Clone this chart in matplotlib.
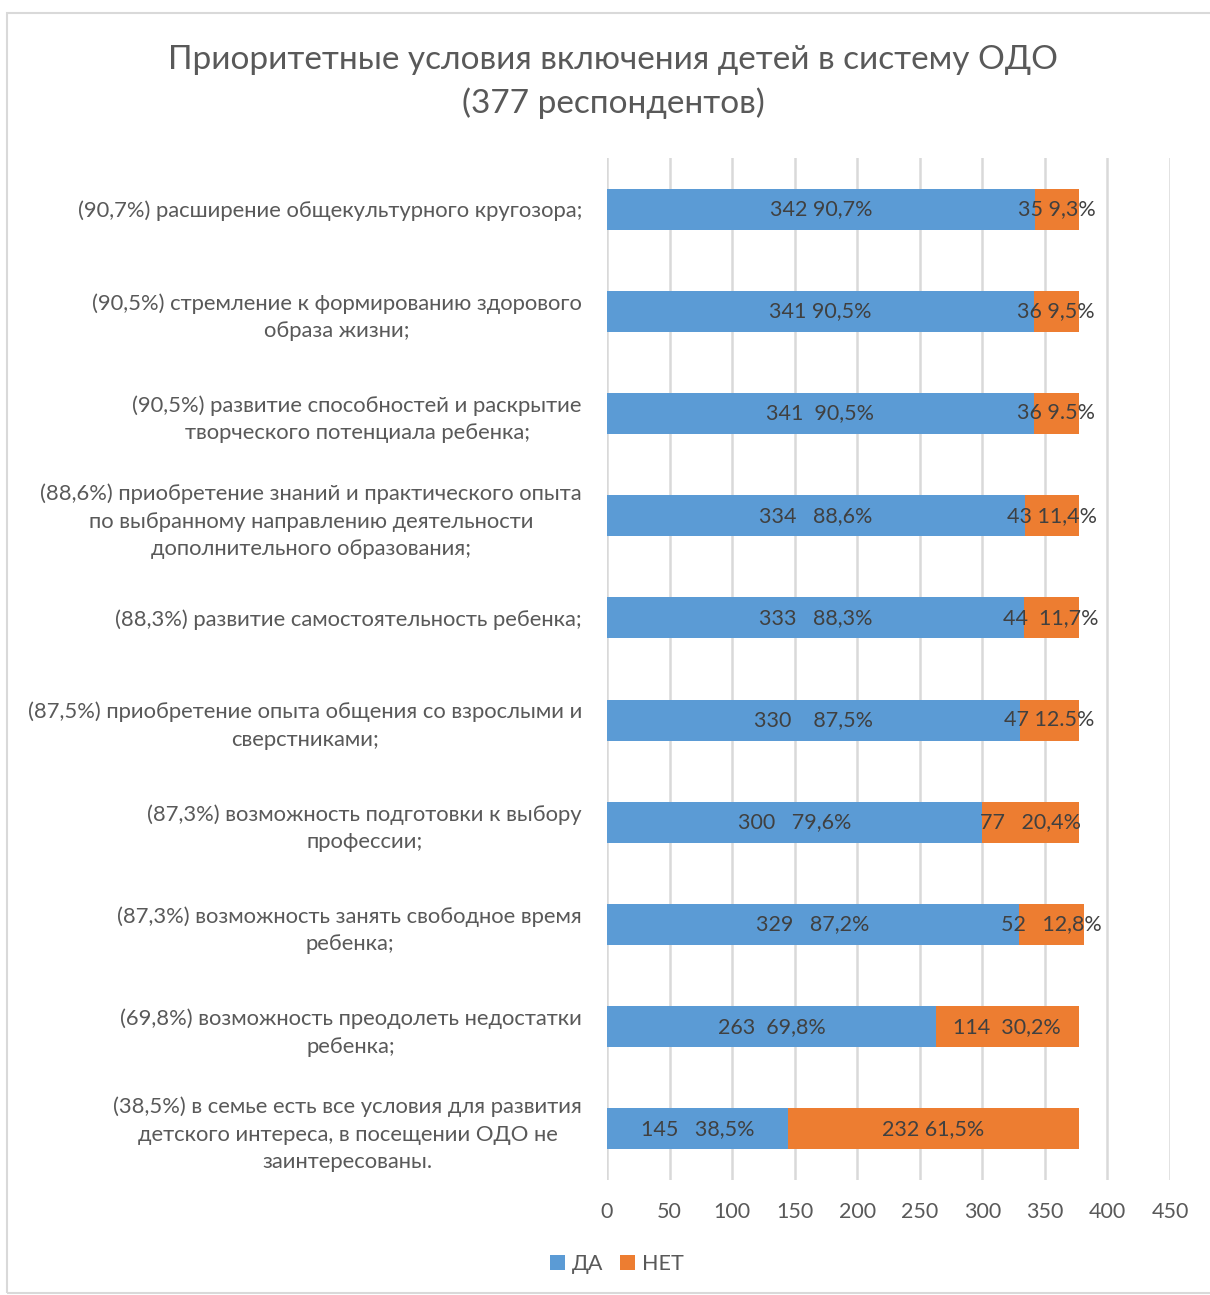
import matplotlib.pyplot as plt
from matplotlib.patches import Rectangle

plt.rcParams['font.family'] = ['Lato', 'DejaVu Sans']

categories = [
    "(90,7%) расширение общекультурного кругозора;",
    "(90,5%) стремление к формированию здорового\nобраза жизни;",
    "(90,5%) развитие способностей и раскрытие\nтворческого потенциала ребенка;",
    "(88,6%) приобретение знаний и практического опыта\nпо выбранному направлению деятельности\nдополнительного образования;",
    "(88,3%) развитие самостоятельность ребенка;",
    "(87,5%) приобретение опыта общения со взрослыми и\nсверстниками;",
    "(87,3%) возможность подготовки к выбору\nпрофессии;",
    "(87,3%) возможность занять свободное время\nребенка;",
    "(69,8%) возможность преодолеть недостатки\nребенка;",
    "(38,5%) в семье есть все условия для развития\nдетского интереса, в посещении ОДО не\nзаинтересованы.",
]
yes_vals = [342, 341, 341, 334, 333, 330, 300, 329, 263, 145]
no_vals = [35, 36, 36, 43, 44, 47, 77, 52, 114, 232]
yes_labels = ["342 90,7%", "341 90,5%", "341  90,5%", "334   88,6%", "333   88,3%",
              "330    87,5%", "300   79,6%", "329   87,2%", "263  69,8%", "145   38,5%"]
no_labels = ["35 9,3%", "36 9,5%", "36 9.5%", "43 11,4%", "44  11,7%",
             "47 12.5%", "77   20,4%", "52   12,8%", "114  30,2%", "232 61,5%"]
xticks = [0, 50, 100, 150, 200, 250, 300, 350, 400, 450]

blue = '#5B9BD5'
orange = '#ED7D31'
grey = '#595959'

fig = plt.figure(figsize=(12.1, 12.95), dpi=100)
fig.patches.append(Rectangle((7 / 1210, 2 / 1295), 1.0, (1282 - 2) / 1295,
                             transform=fig.transFigure, fill=False,
                             edgecolor='#D9D9D9', linewidth=1.5))

ax = fig.add_axes([607 / 1210, (1295 - 1180) / 1295, 563 / 1210, (1180 - 158) / 1295])

n = len(categories)
ypos = list(range(n))
ax.barh(ypos, yes_vals, height=0.4, color=blue, label='ДА', zorder=3)
ax.barh(ypos, no_vals, left=yes_vals, height=0.4, color=orange, label='НЕТ', zorder=3)

for i in range(n):
    ax.text(yes_vals[i] / 2, i, yes_labels[i], ha='center', va='center',
            fontsize=15.5, color='#404040', zorder=4)
    ax.text(yes_vals[i] + no_vals[i] / 2, i, no_labels[i], ha='center', va='center',
            fontsize=15.5, color='#404040', zorder=4)

ax.set_ylim(n - 0.5, -0.5)
ax.set_xlim(0, 450)
ax.set_xticks(xticks)
ax.set_xticklabels([str(t) for t in xticks], fontsize=15.5, color=grey)
ax.set_yticks(ypos)
ax.set_yticklabels(categories, fontsize=15.8, color=grey, multialignment='center',
                   linespacing=1.47)
ax.tick_params(axis='both', length=0)
ax.tick_params(axis='x', pad=16)
ax.tick_params(axis='y', pad=18)
ax.grid(axis='x', color='#D9D9D9', linewidth=1.8, zorder=0)
for s in ax.spines.values():
    s.set_visible(False)

fig.text(613 / 1210, 1 - 82 / 1295, 'Приоритетные условия включения детей в систему ОДО\n(377 респондентов)',
         ha='center', va='center', fontsize=24, color=grey, linespacing=1.5)

fig.legend(loc='center', bbox_to_anchor=(617 / 1210, 1 - 1264 / 1295), ncol=2, frameon=False,
           fontsize=15.5, handlelength=0.7, handleheight=0.7, handletextpad=0.3, columnspacing=0.8,
           labelcolor=grey)

fig.savefig('out.png', dpi=100)
